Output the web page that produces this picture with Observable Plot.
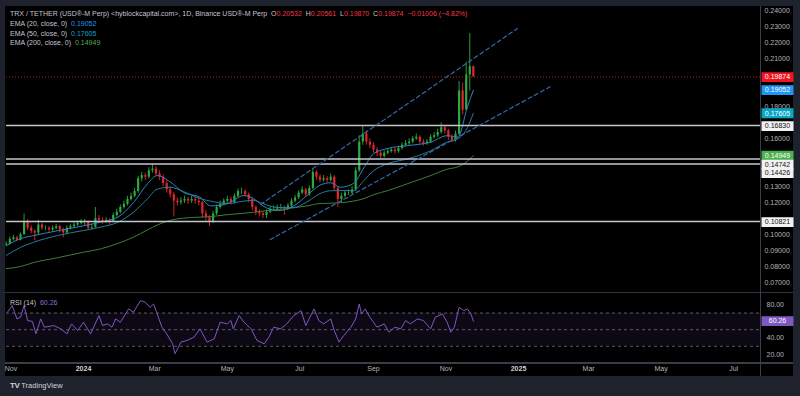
<!DOCTYPE html>
<html><head><meta charset="utf-8">
<script src="https://cdn.jsdelivr.net/npm/d3@7"></script>
<script src="https://cdn.jsdelivr.net/npm/@observablehq/plot@0.6"></script>
<style>
html,body{margin:0;padding:0;background:#1e222d;}
#root{position:relative;width:800px;height:396px;overflow:hidden;background:#1e222d;font-family:"Liberation Sans",Arial,sans-serif;}
#pane{position:absolute;left:5px;top:6px;width:788px;height:370px;background:#000;}
#root svg{position:absolute;left:0;top:0;overflow:visible;}
.line{position:absolute;background:#2f333e;}
.leg{position:absolute;left:10px;font-size:7px;color:#c3c6cd;white-space:nowrap;line-height:8px;}
.r{color:#f23645;}
</style></head>
<body><div id="root"><div id="pane"></div></div>
<script>
// ---------- data ----------
const firstBar = "2023-10-28";   // 3-day bars
const barDays = 3;
const firstOpen = 0.0935;
const closes = [0.0940,0.0970,0.0980,0.0965,0.1000,0.1080,0.1040,0.1020,0.1010,0.1060,
 0.1040,0.1040,0.1030,0.1040,0.1050,0.1030,0.1010,0.1040,0.1050,0.1060,
 0.1070,0.1080,0.1080,0.1040,0.1045,0.1100,0.1090,0.1080,0.1090,0.1080,
 0.1120,0.1140,0.1170,0.1190,0.1220,0.1240,0.1270,0.1350,0.1370,0.1360,
 0.1400,0.1410,0.1380,0.1360,0.1320,0.1280,0.1250,0.1210,0.1200,0.1210,
 0.1220,0.1210,0.1220,0.1210,0.1200,0.1130,0.1110,0.1080,0.1130,0.1170,
 0.1190,0.1210,0.1220,0.1200,0.1240,0.1270,0.1270,0.1250,0.1220,0.1170,
 0.1140,0.1130,0.1120,0.1140,0.1160,0.1160,0.1170,0.1170,0.1160,0.1180,
 0.1210,0.1230,0.1260,0.1280,0.1250,0.1290,0.1390,0.1360,0.1340,0.1350,
 0.1340,0.1360,0.1290,0.1220,0.1240,0.1260,0.1260,0.1280,0.1400,0.1580,
 0.1630,0.1580,0.1560,0.1530,0.1510,0.1490,0.1510,0.1520,0.1530,0.1520,
 0.1540,0.1560,0.1570,0.1580,0.1600,0.1610,0.1580,0.1570,0.1580,0.1610,
 0.1620,0.1640,0.1670,0.1650,0.1610,0.1590,0.1630,0.1900,0.1780,0.2000,
 0.2053,0.19874];
const highs = [0.0955,0.0985,0.0995,0.0990,0.1010,0.1130,0.1095,0.1055,0.1030,0.1090,
 0.1070,0.1055,0.1050,0.1055,0.1065,0.1060,0.1040,0.1055,0.1065,0.1075,
 0.1085,0.1095,0.1095,0.1085,0.1065,0.1170,0.1120,0.1105,0.1105,0.1100,
 0.1135,0.1160,0.1185,0.1210,0.1240,0.1260,0.1290,0.1365,0.1390,0.1385,
 0.1420,0.1440,0.1425,0.1400,0.1375,0.1335,0.1300,0.1265,0.1230,0.1230,
 0.1240,0.1235,0.1240,0.1235,0.1230,0.1210,0.1150,0.1120,0.1145,0.1185,
 0.1210,0.1225,0.1240,0.1235,0.1255,0.1285,0.1290,0.1280,0.1260,0.1230,
 0.1180,0.1155,0.1145,0.1155,0.1175,0.1180,0.1185,0.1190,0.1180,0.1195,
 0.1225,0.1245,0.1275,0.1300,0.1290,0.1305,0.1410,0.1400,0.1375,0.1370,
 0.1365,0.1380,0.1370,0.1300,0.1260,0.1275,0.1280,0.1300,0.1420,0.1620,
 0.1680,0.1650,0.1600,0.1575,0.1545,0.1525,0.1525,0.1535,0.1545,0.1540,
 0.1555,0.1575,0.1590,0.1600,0.1615,0.1630,0.1620,0.1595,0.1595,0.1625,
 0.1640,0.1660,0.1700,0.1685,0.1660,0.1625,0.1650,0.1960,0.1950,0.2080,
 0.2260,0.20561];
const lows = [0.0925,0.0935,0.0960,0.0955,0.0960,0.0995,0.1025,0.1005,0.0960,0.1000,
 0.1025,0.1025,0.1015,0.1020,0.1030,0.1010,0.0980,0.1000,0.1030,0.1040,
 0.1050,0.1060,0.1055,0.1025,0.1030,0.1040,0.1070,0.1065,0.1070,0.1060,
 0.1075,0.1110,0.1130,0.1160,0.1180,0.1210,0.1230,0.1260,0.1330,0.1340,
 0.1350,0.1385,0.1365,0.1340,0.1300,0.1260,0.1230,0.1110,0.1180,0.1185,
 0.1195,0.1190,0.1195,0.1190,0.1180,0.1100,0.1085,0.1050,0.1070,0.1120,
 0.1160,0.1180,0.1195,0.1185,0.1190,0.1230,0.1250,0.1235,0.1200,0.1150,
 0.1120,0.1110,0.1100,0.1100,0.1130,0.1145,0.1150,0.1155,0.1120,0.1150,
 0.1170,0.1200,0.1220,0.1250,0.1235,0.1240,0.1280,0.1340,0.1325,0.1330,
 0.1325,0.1330,0.1270,0.1170,0.1200,0.1230,0.1245,0.1250,0.1270,0.1390,
 0.1560,0.1560,0.1540,0.1510,0.1490,0.1475,0.1480,0.1500,0.1510,0.1505,
 0.1510,0.1530,0.1550,0.1560,0.1570,0.1590,0.1565,0.1555,0.1560,0.1570,
 0.1600,0.1610,0.1630,0.1630,0.1590,0.1575,0.1580,0.1620,0.1750,0.1780,
 0.1900,0.19870];

// EMA readings (days from 2024-01-01)
const emaDays = [-65,-53,-42,-22,0,14,29,42,54,62,73,84,98,107,121,135,143,151,163,177,188,199,208,216,227,236,244,256,273,292,306,315,323,328];
const ema20 = [0.0930,0.0975,0.0994,0.1024,0.1055,0.1078,0.1110,0.1200,0.1320,0.1370,0.1330,0.1265,0.1234,0.1180,0.1194,0.1245,0.1226,0.1180,0.1150,0.1180,0.1245,0.1310,0.1325,0.1297,0.1320,0.1420,0.1507,0.1540,0.1558,0.1579,0.1620,0.1610,0.1800,0.1905];
const ema50 = [0.0870,0.0920,0.0952,0.0994,0.1026,0.1046,0.1078,0.1140,0.1226,0.1285,0.1297,0.1270,0.1226,0.1210,0.1195,0.1210,0.1215,0.1195,0.1170,0.1170,0.1205,0.1257,0.1275,0.1276,0.1276,0.1340,0.1400,0.1445,0.1475,0.1525,0.1580,0.1600,0.1670,0.1760];
const ema200 = [0.0787,0.0800,0.0825,0.0855,0.0890,0.0910,0.0945,0.0984,0.1030,0.1060,0.1090,0.1103,0.1110,0.1113,0.1125,0.1134,0.1140,0.1148,0.1157,0.1168,0.1180,0.1195,0.1197,0.1200,0.1210,0.1226,0.1250,0.1276,0.1320,0.1370,0.1410,0.1425,0.1460,0.1495];

// RSI(14) readings (days from 2024-01-01)
const rsiDays = [-64,-60,-56,-53,-50,-47,-43,-40,-36,-33,-25,-19,-14,-10,-5,0,6,13,16,20,24,27,31,38,42,48,52,56,59,62,66,70,75,77,82,87,93,98,104,110,115,121,124,126,131,135,141,146,152,156,160,166,171,177,183,187,194,198,202,208,211,215,219,225,229,232,234,237,241,247,253,257,262,267,271,275,281,286,292,296,302,306,309,312,316,320,323,326,328];
const rsiVals = [71,79,63,65,79,61,60,45,63,53,55,51,45,57,49,59,45,67,55,57,53,63,59,75,71,85,83,77,81,69,53,45,33,21,35,37,41,51,35,39,59,57,61,51,67,59,51,37,33,41,53,51,57,67,73,55,75,61,57,63,49,35,43,53,63,81,69,75,65,53,57,47,53,51,61,57,63,61,51,65,69,59,47,53,77,73,75,69,60.26];
const rsiLevels = [70, 50, 30];
const rsiBand = [30, 70];
const rsiTicks = [20, 40, 80];          // 60.00 sits under the 60.26 marker
const rsiLast = 60.26;

// drawings
const levels = [0.16830, 0.14742, 0.14426, 0.10821];
const lastPrice = 0.19874;
const channelUpperDates = ["2024-05-29", "2024-12-31"], channelUpperVals = [0.1189, 0.2291];
const channelLowerDates = ["2024-06-06", "2025-01-28"], channelLowerVals = [0.0969, 0.1928];

// axes (ticks hidden under the price markers are left out)
const priceTicks = [0.07,0.08,0.09,0.10,0.12,0.13,0.16,0.18,0.21,0.22,0.23,0.24];
const markerValues = [0.19874, 0.19052, 0.17605, 0.16830, 0.14949, 0.14742, 0.14426, 0.10821];
const monthTicks = ["2023-11-01","2024-03-01","2024-05-01","2024-07-01","2024-09-01","2024-11-01","2025-03-01","2025-05-01","2025-07-01"];
const yearTicks = ["2024-01-01","2025-01-01"];

// ---------- build ----------
const DAY = 864e5;
const T0 = Date.UTC(2024,0,1), T1 = Date.UTC(2025,0,1);
const px = t => 83 + (t - T0) / (T1 - T0) * 435;
const xd = [Date.UTC(2023,9,1), Date.UTC(2025,7,1)];
const xScale = {type:"utc", domain: xd.map(t => new Date(t)), range: xd.map(px), label: null};
const dayDate = d => new Date(T0 + d * DAY);
const iso = s => new Date(s + "T00:00:00Z");

const t0 = iso(firstBar).getTime();
const candles = closes.map((c, i) => ({
  date: new Date(t0 + i * barDays * DAY),
  open: i ? closes[i - 1] : firstOpen, close: c, high: highs[i], low: lows[i]
}));
const emaRows = emaDays.map((d, i) => ({date: dayDate(d), e20: ema20[i], e50: ema50[i], e200: ema200[i]}));
const rsiRows = rsiDays.map((d, i) => ({date: dayDate(d), v: rsiVals[i]}));
const upperRows = channelUpperDates.map((d, i) => ({date: iso(d), v: channelUpperVals[i]}));
const lowerRows = channelLowerDates.map((d, i) => ({date: iso(d), v: channelLowerVals[i]}));

const UP = "#2bab3e", DOWN = "#e3262b";
const candleColor = d => d.close >= d.open ? UP : DOWN;
const FONT = "Liberation Sans, Arial, sans-serif";

const rectSym = {draw(ctx) { ctx.moveTo(-16,-4.9); ctx.lineTo(16,-4.9); ctx.lineTo(16,4.9); ctx.lineTo(-16,4.9); ctx.closePath(); }};
const markerFill = ["#f0141e", "#2196f3", "#0aa6c4", "#f2f2f2", "#4caf50", "#f2f2f2", "#f2f2f2", "#f2f2f2"];
const markerInk  = ["#fff", "#fff", "#fff", "#111", "#fff", "#111", "#111", "#111"];
const markerDy   = [0, 0, 0, 0.6, 0, 5.6, 9.2, 0.6];

const boxMarks = [];
markerValues.forEach((v, i) => {
  boxMarks.push(Plot.dot([v], {y: d => d, frameAnchor: "right", dx: 17, dy: markerDy[i], symbol: rectSym, r: 4, fill: markerFill[i], stroke: "none"}));
  boxMarks.push(Plot.text([v], {y: d => d, text: d => d.toFixed(5), frameAnchor: "right", dx: 17, dy: markerDy[i], fill: markerInk[i], fontSize: 7, textAnchor: "middle"}));
});

const pricePlot = Plot.plot({
  width: 800, height: 292, marginTop: 6, marginBottom: 0, marginLeft: 6, marginRight: 40,
  style: {background: "transparent", fontFamily: FONT, overflow: "visible"},
  x: {...xScale, axis: null},
  y: {domain: [0.07, 0.24], range: [282, 10.7], axis: null, label: null},
  color: {type: "identity"},
  marks: [
    Plot.ruleX(candles, {x: "date", y1: "low", y2: "high", stroke: candleColor, strokeWidth: 0.9}),
    Plot.ruleX(candles, {x: "date", y1: "open", y2: "close", stroke: candleColor, strokeWidth: 2.2}),
    Plot.line(emaRows, {x: "date", y: "e200", stroke: "#3f7d36", strokeWidth: 1, curve: "monotone-x"}),
    Plot.line(emaRows, {x: "date", y: "e50", stroke: "#237e9c", strokeWidth: 1, curve: "monotone-x"}),
    Plot.line(emaRows, {x: "date", y: "e20", stroke: "#2f84c4", strokeWidth: 1, curve: "monotone-x"}),
    Plot.ruleY(levels, {stroke: "#c4c6cc", strokeWidth: 1.5}),
    Plot.ruleY([lastPrice], {stroke: "#b3202a", strokeWidth: 1, strokeDasharray: "1,2"}),
    Plot.line(upperRows, {x: "date", y: "v", stroke: "#3568a8", strokeWidth: 1.2, strokeDasharray: "4,3"}),
    Plot.line(lowerRows, {x: "date", y: "v", stroke: "#3568a8", strokeWidth: 1.2, strokeDasharray: "4,3"}),
    Plot.axisY({anchor: "right", ticks: priceTicks, tickSize: 0, tickPadding: 4, tickFormat: d => d.toFixed(5), fontSize: 7, color: "#b2b5be", label: null}),
    ...boxMarks
  ]
});

const rsiPlot = Plot.plot({
  width: 800, height: 376, marginTop: 293, marginBottom: 14, marginLeft: 6, marginRight: 40,
  style: {background: "transparent", fontFamily: FONT, overflow: "visible"},
  x: {...xScale, axis: null},
  y: {domain: [20, 80], range: [354.1, 304.3], axis: null, label: null},
  marks: [
    Plot.rect([rsiBand], {y1: d => d[0], y2: d => d[1], fill: "#7e57c2", fillOpacity: 0.1}),
    Plot.ruleY(rsiLevels, {stroke: "#6f7280", strokeWidth: 0.8, strokeDasharray: "3,3"}),
    Plot.line(rsiRows, {x: "date", y: "v", stroke: "#7e57c2", strokeWidth: 1}),
    Plot.axisY({anchor: "right", ticks: rsiTicks, tickSize: 0, tickPadding: 6, tickFormat: d => d.toFixed(2), fontSize: 7, color: "#b2b5be", label: null}),
    Plot.dot([rsiLast], {y: d => d, frameAnchor: "right", dx: 17, symbol: rectSym, r: 4, fill: "#7e57c2", stroke: "none"}),
    Plot.text([rsiLast], {y: d => d, text: d => d.toFixed(2), frameAnchor: "right", dx: 17, fill: "#fff", fontSize: 7, textAnchor: "middle"}),
    Plot.axisX({ticks: monthTicks.map(iso), tickFormat: "%b", tickSize: 0, tickPadding: 4, fontSize: 7, color: "#b2b5be", label: null}),
    Plot.axisX({ticks: yearTicks.map(iso), tickFormat: "%Y", tickSize: 0, tickPadding: 4, fontSize: 7, fontWeight: "bold", color: "#d1d4dc", label: null})
  ]
});

const root = document.getElementById("root");
function addLine(l, t, w, h, c) { const e = document.createElement("div"); e.className = "line"; Object.assign(e.style, {left: l + "px", top: t + "px", width: w + "px", height: h + "px"}); if (c) e.style.background = c; root.appendChild(e); }
addLine(5, 292, 788, 1);
addLine(5, 362, 788, 1.5, "#3a3e49");
addLine(760, 6, 1, 370, "#3a3e49");
root.appendChild(pricePlot);
root.appendChild(rsiPlot);

function addText(html, cls, top, extra) { const e = document.createElement("div"); e.className = cls; e.style.top = top + "px"; e.innerHTML = html; if (extra) Object.assign(e.style, extra); root.appendChild(e); }
addText('TRX / TETHER (USD®-M Perp) &lt;hyblockcapital.com&gt;, 1D, Binance USD®-M Perp&nbsp;&nbsp;O<span class="r">0.20532</span>&nbsp;&nbsp;H<span class="r">0.20561</span>&nbsp;&nbsp;L<span class="r">0.19870</span>&nbsp;&nbsp;C<span class="r">0.19874</span>&nbsp;&nbsp;<span class="r">−0.01006 (−4.82%)</span>', "leg", 10);
addText('EMA (20, close, 0)&nbsp;&nbsp;<span style="color:#2196f3">0.19052</span>', "leg", 20);
addText('EMA (50, close, 0)&nbsp;&nbsp;<span style="color:#0aa6c4">0.17605</span>', "leg", 29.5);
addText('EMA (200, close, 0)&nbsp;&nbsp;<span style="color:#4caf50">0.14949</span>', "leg", 39);
addText('RSI (14)&nbsp;&nbsp;<span style="color:#8f6bd6">60.26</span>', "leg", 299);
addText('<b style="font-size:8px;letter-spacing:-0.5px">TV</b>&nbsp;TradingView', "leg", 382, {fontSize: "7.5px", color: "#d1d4dc"});
</script>
</body></html>
